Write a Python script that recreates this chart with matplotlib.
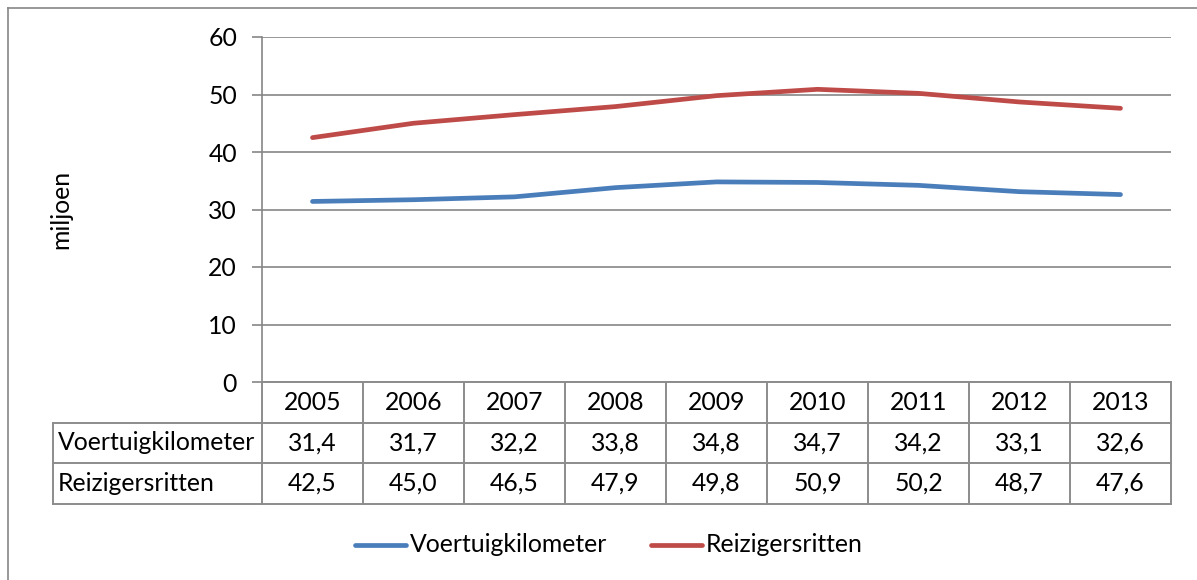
import matplotlib
matplotlib.use("Agg")
import matplotlib.pyplot as plt
from matplotlib.lines import Line2D

years = ["2005", "2006", "2007", "2008", "2009", "2010", "2011", "2012", "2013"]
voertuig = [31.4, 31.7, 32.2, 33.8, 34.8, 34.7, 34.2, 33.1, 32.6]
reiziger = [42.5, 45.0, 46.5, 47.9, 49.8, 50.9, 50.2, 48.7, 47.6]
series_names = ["Voertuigkilometer", "Reizigersritten"]
yticks = [0, 10, 20, 30, 40, 50, 60]

plt.rcParams['font.family'] = ['Lato', 'DejaVu Sans']
FS = 17.8
W, H = 1197, 580
fig = plt.figure(figsize=(W / 100, H / 100), dpi=100)

def fx(px):
    return px / W

def fy(py):
    return 1 - py / H

# outer border
fig.add_artist(Line2D([fx(8), fx(8)], [fy(8), fy(580)], color="#868686", lw=1.2))
fig.add_artist(Line2D([fx(8), fx(1197)], [fy(8), fy(8)], color="#868686", lw=1.2))

L, R, T, B = 262, 1171, 37, 382
ax = fig.add_axes([fx(L), fy(B), fx(R - L), (B - T) / H])
x = list(range(len(years)))
blue = "#4a7ebb"
red = "#be4b48"
grid_c = "#868686"
ax.plot(x, voertuig, color=blue, lw=3.4, solid_capstyle="round", zorder=3)
ax.plot(x, reiziger, color=red, lw=3.4, solid_capstyle="round", zorder=3)
ax.set_xlim(-0.5, len(years) - 0.5)
ax.set_ylim(0, 60)
ax.set_yticks(yticks)
ax.set_yticklabels([str(v) for v in yticks], fontsize=FS)
ax.yaxis.grid(True, color=grid_c, lw=1.2)
ax.set_axisbelow(True)
ax.set_xticks([])
for s in ["top", "right", "bottom"]:
    ax.spines[s].set_visible(False)
ax.spines["left"].set_color(grid_c)
ax.spines["left"].set_linewidth(1.2)
ax.tick_params(axis="y", direction="out", length=7, width=1.2, color=grid_c, pad=11)
ax.set_ylabel("miljoen", fontsize=FS, labelpad=0)
ax.yaxis.set_label_coords((72 - L) / (R - L), 0.5)

# data table
tc = "#8c8c8c"
rows = [423, 463, 504]
hdr_top = 382
def tline(x0, x1, y0, y1):
    fig.add_artist(Line2D([fx(x0), fx(x1)], [fy(y0), fy(y1)], color=tc, lw=1.4))

cw = (R - L) / len(years)
# horizontal lines
tline(L, R, hdr_top, hdr_top)
for yy in rows:
    tline(53, R, yy, yy)
# vertical lines
tline(53, 53, rows[0], rows[2])
for i in range(len(years) + 1):
    xx = L + i * cw
    tline(xx, xx, hdr_top, rows[2])

fmt = lambda v: f"{v:.1f}".replace(".", ",")
for i, yr in enumerate(years):
    cx = L + (i + 0.5) * cw
    fig.text(fx(cx), fy((hdr_top + rows[0]) / 2), yr, ha="center", va="center", fontsize=FS)
    fig.text(fx(cx), fy((rows[0] + rows[1]) / 2), fmt(voertuig[i]), ha="center", va="center", fontsize=FS)
    fig.text(fx(cx), fy((rows[1] + rows[2]) / 2), fmt(reiziger[i]), ha="center", va="center", fontsize=FS)
fig.text(fx(58), fy((rows[0] + rows[1]) / 2), series_names[0], ha="left", va="center", fontsize=FS)
fig.text(fx(58), fy((rows[1] + rows[2]) / 2), series_names[1], ha="left", va="center", fontsize=FS)

# legend
ly = 545
fig.add_artist(Line2D([fx(355), fx(406)], [fy(ly), fy(ly)], color=blue, lw=3.4, solid_capstyle="round"))
fig.text(fx(410), fy(ly), series_names[0], ha="left", va="center", fontsize=FS)
fig.add_artist(Line2D([fx(651), fx(702)], [fy(ly), fy(ly)], color=red, lw=3.4, solid_capstyle="round"))
fig.text(fx(706), fy(ly), series_names[1], ha="left", va="center", fontsize=FS)

fig.savefig("out.png", dpi=100)
